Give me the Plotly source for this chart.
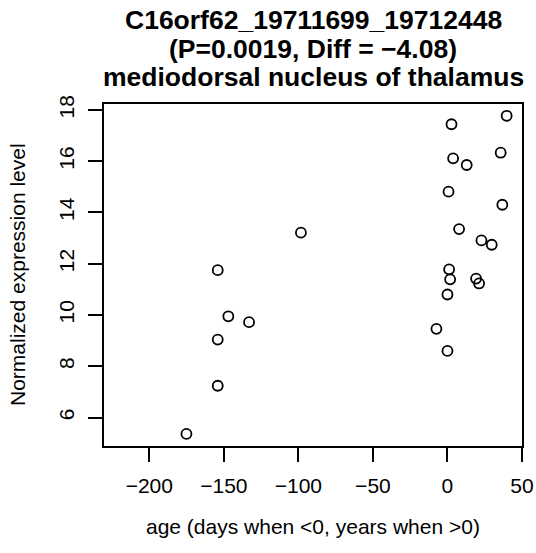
import plotly.graph_objects as go

# Data
age = [-175.1, -154.1, -154.1, -154.1, -147.0, -133.1, -98.3, -7.4, 0.0, 0.0,
       0.7, 1.1, 1.8, 2.7, 3.8, 7.8, 12.9, 19.2, 21.2, 22.8, 29.7, 35.7, 36.8, 39.7]
expression = [5.36, 7.24, 9.04, 11.75, 9.95, 9.72, 13.21, 9.46, 8.60, 10.80,
              14.81, 11.78, 11.39, 17.44, 16.11, 13.35, 15.85, 11.42, 11.23, 12.91,
              12.74, 16.33, 14.30, 17.77]

x_tick_vals = [-200, -150, -100, -50, 0, 50]
x_tick_text = ["\u2212200", "\u2212150", "\u2212100", "\u221250", "0", "50"]
y_tick_vals = [6, 8, 10, 12, 14, 16, 18]
y_tick_text = ["6", "8", "10", "12", "14", "16", "18"]

title_lines = ["C16orf62_19711699_19712448",
               "(P=0.0019, Diff = \u22124.08)",
               "mediodorsal nucleus of thalamus"]
x_title = "age (days when <0, years when >0)"
y_title = "Normalized expression level"

FONT = "Liberation Sans, Arial, Helvetica, sans-serif"

W, H = 536, 553
L, R, T, B = 104, 14, 104, 107
ph = H - T - B
pw = W - L - R

def py(p):  # screen y pixel -> paper y
    return (H - B - p) / ph

def px(p):  # screen x pixel -> paper x
    return (p - L) / pw

fig = go.Figure()
fig.add_trace(go.Scatter(
    x=age, y=expression, mode="markers",
    marker=dict(symbol="circle-open", size=10, color="black",
                line=dict(color="black", width=1.8)),
    hoverinfo="x+y", showlegend=False,
))

annotations = []
for line, yc in zip(title_lines, [20.5, 48.5, 77]):
    annotations.append(dict(text="<b>%s</b>" % line, x=0.5, y=py(yc), xref="paper", yref="paper",
                            xanchor="center", yanchor="middle", showarrow=False,
                            font=dict(family=FONT, size=26.5, color="black")))
annotations.append(dict(text=x_title, x=0.5, y=py(526), xref="paper", yref="paper",
                        xanchor="center", yanchor="middle", showarrow=False,
                        font=dict(family=FONT, size=21, color="black")))
annotations.append(dict(text=y_title, x=px(17), y=0.5, xref="paper", yref="paper",
                        xanchor="center", yanchor="middle", showarrow=False, textangle=-90,
                        font=dict(family=FONT, size=21, color="black")))

fig.update_layout(
    template="none",
    width=W, height=H,
    margin=dict(l=L, r=R, t=T, b=B, pad=0, autoexpand=False),
    paper_bgcolor="white", plot_bgcolor="white",
    font=dict(family=FONT, size=21, color="black"),
    annotations=annotations,
    xaxis=dict(range=[-230.4, 50.0], tickvals=x_tick_vals, ticktext=x_tick_text,
               automargin=False,
               showgrid=False, zeroline=False, showline=True, mirror=True,
               linecolor="black", linewidth=1.5, ticks="outside", ticklen=14,
               tickwidth=1.5, tickcolor="black", ticklabelstandoff=6,
               tickfont=dict(family=FONT, size=21, color="black")),
    yaxis=dict(range=[4.89, 18.23], tickvals=y_tick_vals, ticktext=y_tick_text,
               automargin=False,
               showgrid=False, zeroline=False, showline=True, mirror=True,
               linecolor="black", linewidth=1.5, ticks="outside", ticklen=14,
               tickwidth=1.5, tickcolor="black", tickangle=-90, ticklabelstandoff=6,
               tickfont=dict(family=FONT, size=21, color="black")),
)

fig.write_html("out.html", config={"displayModeBar": False},
               post_script="document.body.style.margin='0';")
